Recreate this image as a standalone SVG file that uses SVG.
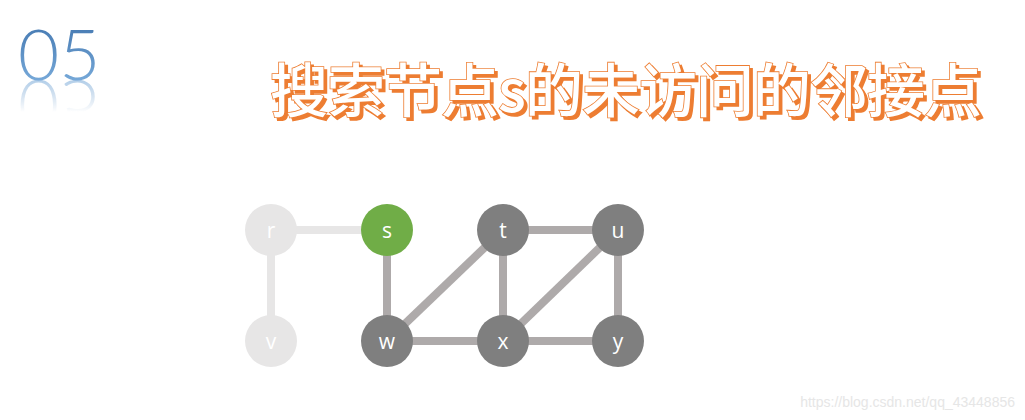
<svg xmlns="http://www.w3.org/2000/svg" xmlns:xlink="http://www.w3.org/1999/xlink" width="1025" height="420" viewBox="0 0 1025 420">
<defs>
<linearGradient id="blue" x1="0" y1="0" x2="0" y2="1">
<stop offset="0" stop-color="#3a6ea8"/>
<stop offset="1" stop-color="#82b4e2"/>
</linearGradient>
<linearGradient id="fade" gradientUnits="userSpaceOnUse" x1="0" y1="80" x2="0" y2="112">
<stop offset="0" stop-color="#ffffff" stop-opacity="0.55"/>
<stop offset="1" stop-color="#ffffff" stop-opacity="0"/>
</linearGradient>
<mask id="rm" maskUnits="userSpaceOnUse" x="0" y="80" width="130" height="40">
<rect x="0" y="80" width="130" height="34" fill="url(#fade)"/>
</mask>
<filter id="shadow" x="-5%" y="-20%" width="115%" height="150%">
<feOffset in="SourceAlpha" dx="3" dy="3" result="off"/>
<feFlood flood-color="#ed7d31"/>
<feComposite in2="off" operator="in" result="sh"/>
<feMerge><feMergeNode in="sh"/><feMergeNode in="SourceGraphic"/></feMerge>
</filter>
<style>
.node text{font-family:"Open Sans","Liberation Sans",sans-serif;font-size:21px;fill:#ffffff;text-anchor:middle;dominant-baseline:central}
.dark circle{fill:#7f7f7f}
.light circle{fill:#e7e6e6}
.green circle{fill:#70ad47}
.e-dark{stroke:#aeaaaa;stroke-width:8}
.e-light{stroke:#e7e6e6;stroke-width:8}
.title{font-family:"Noto Sans CJK SC","Liberation Sans",sans-serif;font-weight:500;font-size:58px}
</style>
</defs>
<rect width="1025" height="420" fill="#ffffff"/>
<g id="number">
<text id="n05" x="18" y="80" font-family="Lato,'Open Sans',sans-serif" font-weight="300" font-size="71" fill="url(#blue)">05</text>
<g mask="url(#rm)">
<use xlink:href="#n05" href="#n05" transform="translate(0,160) scale(1,-1)"/>
</g>
</g>
<g id="title">
<text class="title" x="270" y="112" textLength="712" lengthAdjust="spacing" fill="#ffffff" stroke="#ed7d31" stroke-width="1.6" paint-order="stroke" filter="url(#shadow)">搜索节点s的未访问的邻接点</text>
</g>
<g id="connectors">
<line class="e-light" x1="271" y1="230" x2="387" y2="230"/>
<line class="e-light" x1="271" y1="230" x2="271" y2="341"/>
<line class="e-dark" x1="387" y1="230" x2="387" y2="341"/>
<line class="e-dark" x1="387" y1="341" x2="503" y2="230"/>
<line class="e-dark" x1="503" y1="230" x2="618" y2="230"/>
<line class="e-dark" x1="503" y1="230" x2="503" y2="341"/>
<line class="e-dark" x1="503" y1="341" x2="618" y2="230"/>
<line class="e-dark" x1="618" y1="230" x2="618" y2="341"/>
<line class="e-dark" x1="387" y1="341" x2="503" y2="341"/>
<line class="e-dark" x1="503" y1="341" x2="618" y2="341"/>
</g>
<g id="node-r" class="node light"><circle cx="271" cy="230" r="26"/><text x="271" y="230">r</text></g>
<g id="node-s" class="node green"><circle cx="387" cy="230" r="26"/><text x="387" y="230">s</text></g>
<g id="node-t" class="node dark"><circle cx="503" cy="230" r="26"/><text x="503" y="230">t</text></g>
<g id="node-u" class="node dark"><circle cx="618" cy="230" r="26"/><text x="618" y="230">u</text></g>
<g id="node-v" class="node light"><circle cx="271" cy="341" r="26"/><text x="271" y="341">v</text></g>
<g id="node-w" class="node dark"><circle cx="387" cy="341" r="26"/><text x="387" y="341">w</text></g>
<g id="node-x" class="node dark"><circle cx="503" cy="341" r="26"/><text x="503" y="341">x</text></g>
<g id="node-y" class="node dark"><circle cx="618" cy="341" r="26"/><text x="618" y="341">y</text></g>
<text x="1015" y="407" text-anchor="end" font-family="'Liberation Sans',Arial,sans-serif" font-size="14" fill="#e6e6e6">https://blog.csdn.net/qq_43448856</text>
</svg>
